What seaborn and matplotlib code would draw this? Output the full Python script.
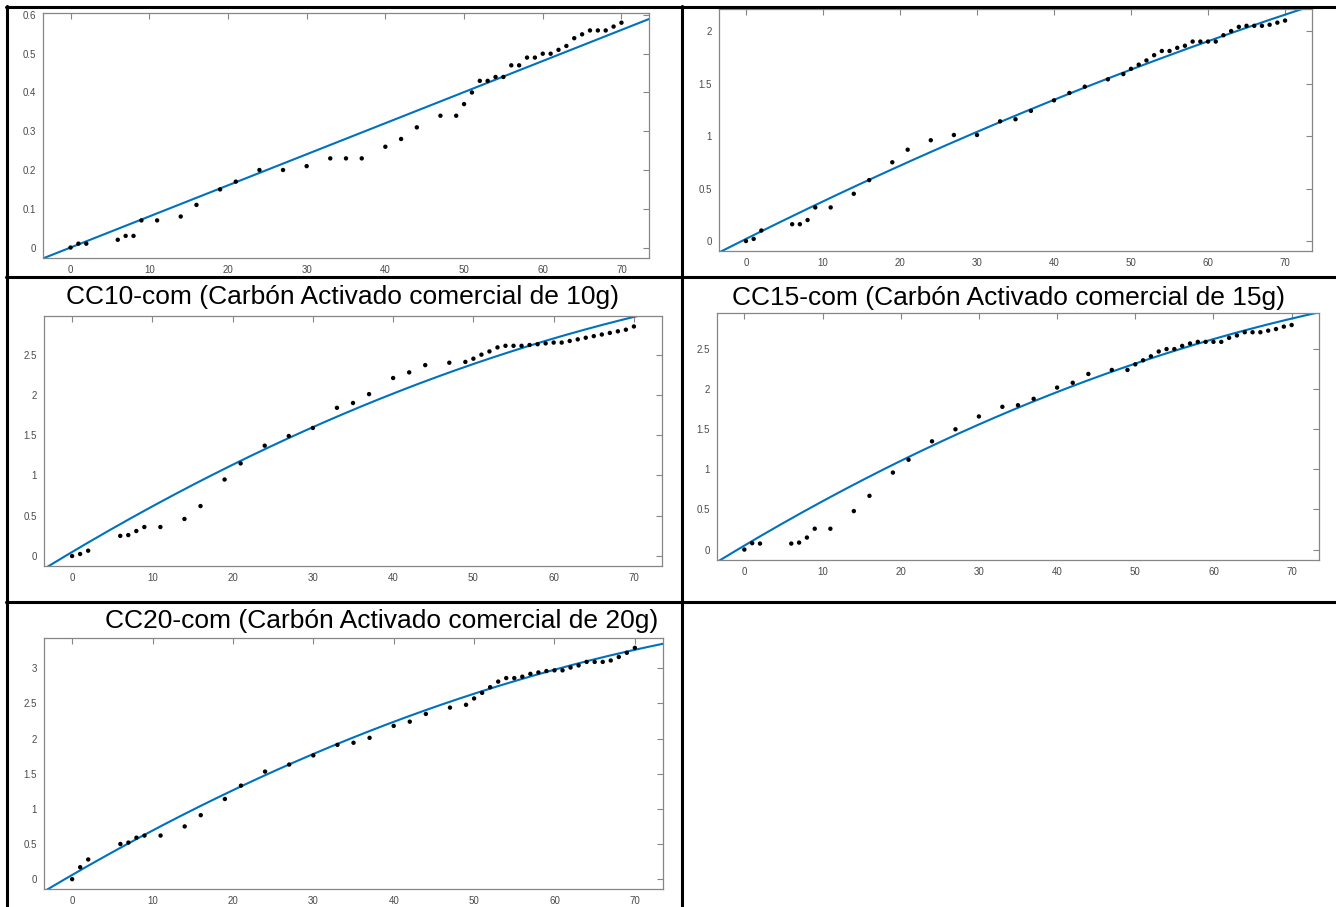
import numpy as np
import pandas as pd
import matplotlib
matplotlib.use("Agg")
import matplotlib.pyplot as plt
from matplotlib.lines import Line2D
from matplotlib.ticker import FuncFormatter, MultipleLocator
import seaborn as sns

# ---------------- data ----------------
t = [0, 1, 2, 6, 7, 8, 9, 11, 14, 16, 19, 21, 24, 27, 30, 33, 35, 37, 40, 42, 44,
     47, 49, 50, 51, 52, 53, 54, 55, 56, 57, 58, 59, 60, 61, 62, 63, 64, 65, 66,
     67, 68, 69, 70]

y_top_left = [0, 0.01, 0.01, 0.02, 0.03, 0.03, 0.07, 0.07, 0.08, 0.11, 0.15, 0.17,
              0.20, 0.20, 0.21, 0.23, 0.23, 0.23, 0.26, 0.28, 0.31, 0.34, 0.34, 0.37,
              0.40, 0.43, 0.43, 0.44, 0.44, 0.47, 0.47, 0.49, 0.49, 0.50, 0.50, 0.51,
              0.52, 0.54, 0.55, 0.56, 0.56, 0.56, 0.57, 0.58]

y_top_right = [0, 0.02, 0.10, 0.16, 0.16, 0.20, 0.32, 0.32, 0.45, 0.58, 0.75, 0.87,
               0.96, 1.01, 1.01, 1.14, 1.16, 1.24, 1.34, 1.41, 1.47, 1.54, 1.59, 1.64,
               1.68, 1.72, 1.77, 1.81, 1.81, 1.84, 1.86, 1.90, 1.90, 1.90, 1.90, 1.96,
               2.00, 2.04, 2.05, 2.05, 2.05, 2.06, 2.08, 2.10]

y_cc10 = [0, 0.025, 0.066, 0.25, 0.26, 0.31, 0.36, 0.36, 0.46, 0.62, 0.95, 1.15,
          1.37, 1.49, 1.59, 1.84, 1.90, 2.01, 2.21, 2.28, 2.37, 2.40, 2.41, 2.45,
          2.50, 2.54, 2.59, 2.61, 2.61, 2.61, 2.62, 2.63, 2.64, 2.65, 2.65, 2.67,
          2.69, 2.71, 2.73, 2.75, 2.77, 2.79, 2.81, 2.85]

y_cc15 = [0, 0.08, 0.075, 0.075, 0.087, 0.15, 0.26, 0.26, 0.48, 0.67, 0.96, 1.12,
          1.35, 1.50, 1.66, 1.78, 1.80, 1.88, 2.02, 2.08, 2.19, 2.24, 2.24, 2.31,
          2.36, 2.41, 2.47, 2.50, 2.50, 2.54, 2.57, 2.59, 2.59, 2.59, 2.59, 2.64,
          2.67, 2.71, 2.71, 2.71, 2.73, 2.75, 2.78, 2.80]

y_cc20 = [0, 0.17, 0.28, 0.50, 0.52, 0.59, 0.62, 0.62, 0.75, 0.91, 1.14, 1.33,
          1.53, 1.63, 1.76, 1.91, 1.94, 2.01, 2.18, 2.24, 2.35, 2.44, 2.48, 2.57,
          2.65, 2.73, 2.81, 2.86, 2.86, 2.88, 2.92, 2.94, 2.96, 2.97, 2.97, 3.01,
          3.04, 3.09, 3.09, 3.09, 3.11, 3.16, 3.22, 3.29]

# fitted-curve polynomial coefficients (highest power first)
fit_top_left = [0.00802, 0.0]
fit_top_right = [-0.0000869, 0.0366, 0.02]
fit_cc10 = [-0.000249, 0.05913, 0.05]
fit_cc15 = [-0.0002475, 0.05776, 0.05]
fit_cc20 = [-0.00029, 0.06605, 0.06]

titles = ["", "",
          "CC10-com (Carbón Activado comercial de 10g)",
          "CC15-com (Carbón Activado comercial de 15g)",
          "CC20-com (Carbón Activado comercial de 20g)"]

x_ticks = [0, 10, 20, 30, 40, 50, 60, 70]

# ---------------- layout ----------------
W, H = 1336, 907
sns.set_style("white")
plt.rcParams["font.family"] = ["Liberation Sans", "DejaVu Sans"]

fig = plt.figure(figsize=(W / 100, H / 100), dpi=100)


def rect(l, t_, r, b):
    return [l / W, 1 - b / H, (r - l) / W, (b - t_) / H]


panels = [
    dict(y=y_top_left, fit=fit_top_left, rect=rect(43, 13, 649, 258), ylim=(-0.027, 0.605), ystep=0.1),
    dict(y=y_top_right, fit=fit_top_right, rect=rect(719, 9, 1312, 251), ylim=(-0.095, 2.21), ystep=0.5),
    dict(y=y_cc10, fit=fit_cc10, rect=rect(44, 316, 662, 566), ylim=(-0.124, 2.98), ystep=0.5),
    dict(y=y_cc15, fit=fit_cc15, rect=rect(717, 313, 1319, 560), ylim=(-0.13, 2.95), ystep=0.5),
    dict(y=y_cc20, fit=fit_cc20, rect=rect(44, 638, 663, 889), ylim=(-0.14, 3.43), ystep=0.5),
]

spine_col = "#868686"
tick_col = "#4a4a4a"
blue = "#0072BD"
fmt = FuncFormatter(lambda v, p: ("%g" % round(v, 3)))

for p in panels:
    ax = fig.add_axes(p["rect"])
    df = pd.DataFrame({"t": t, "y": p["y"]})
    xlim = (-3.5, 73.5)
    xf = np.linspace(xlim[0], xlim[1], 200)
    fit = pd.DataFrame({"t": xf, "y": np.polyval(p["fit"], xf)})
    sns.lineplot(data=fit, x="t", y="y", ax=ax, color=blue, linewidth=1.5, zorder=2)
    sns.scatterplot(data=df, x="t", y="y", ax=ax, color="black", s=10,
                    edgecolor="none", zorder=3)
    ax.set_xlim(*xlim)
    ax.set_ylim(*p["ylim"])
    ax.set_xticks(x_ticks)
    ax.yaxis.set_major_locator(MultipleLocator(p["ystep"]))
    ax.yaxis.set_major_formatter(fmt)
    ax.xaxis.set_major_formatter(fmt)
    ax.set_xlabel("")
    ax.set_ylabel("")
    for s in ax.spines.values():
        s.set_color(spine_col)
        s.set_linewidth(0.9)
    ax.tick_params(direction="in", length=4, width=0.8, color=spine_col,
                   labelcolor=tick_col, labelsize=7, top=True, right=True,
                   pad=5)
    for lab in ax.get_xticklabels() + ax.get_yticklabels():
        lab.set_family(["Liberation Sans Narrow", "Liberation Sans", "DejaVu Sans"])

# titles
tkw = dict(ha="center", va="baseline", fontsize=19, color="black")
fig.text(342.5 / W, 1 - 304 / H, titles[2], **tkw)
fig.text(1008.5 / W, 1 - 305 / H, titles[3], **tkw)
fig.text(382 / W, 1 - 628 / H, titles[4], **tkw)

# table borders


def hline(y, x0, x1):
    fig.add_artist(Line2D([x0 / W, x1 / W], [1 - y / H, 1 - y / H], color="black",
                          linewidth=2.2, transform=fig.transFigure))


def vline(x, y0, y1):
    fig.add_artist(Line2D([x / W, x / W], [1 - y0 / H, 1 - y1 / H], color="black",
                          linewidth=2.2, transform=fig.transFigure))


hline(7, 6, W)
hline(277, 6, W)
hline(602, 6, W)
vline(7, 6, H)
vline(682, 6, H)

fig.savefig("out.png", dpi=100)
